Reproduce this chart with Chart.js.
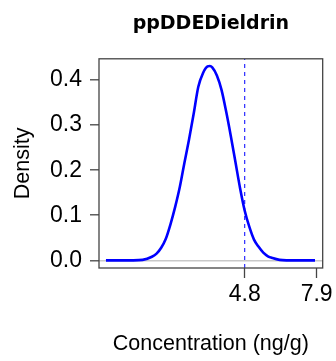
<!DOCTYPE html>
<html>
<head>
<meta charset="utf-8">
<script src="https://cdn.jsdelivr.net/npm/chart.js@4/dist/chart.umd.min.js"></script>
<style>
  html, body { margin: 0; padding: 0; background: #ffffff; }
  #wrap { width: 336px; height: 361px; }
</style>
</head>
<body>
<div id="wrap"><canvas id="c" width="336" height="361"></canvas></div>
<script>
// Density estimate of the concentration (ng/g)
const concentration = [-1.18, 0.0, 0.4, 0.8, 1.0, 1.2, 1.4, 1.6, 1.8, 2.0, 2.2, 2.4, 2.6, 2.8, 3.0, 3.2, 3.3, 3.4, 3.6, 3.8, 4.0, 4.2, 4.4, 4.6, 4.8, 5.0, 5.2, 5.4, 5.6, 5.8, 6.0, 6.3, 6.6, 7.0, 7.83];
const density = [0.000, 0.000, 0.001, 0.008, 0.015, 0.028, 0.048, 0.080, 0.118, 0.162, 0.216, 0.268, 0.325, 0.385, 0.415, 0.430, 0.431, 0.428, 0.410, 0.378, 0.330, 0.276, 0.218, 0.160, 0.110, 0.074, 0.046, 0.030, 0.017, 0.009, 0.005, 0.001, 0.000, 0.000, 0.000];

// Marked reference concentration and axis ticks
const referenceValue = 4.8;
const xTicks = [4.8, 7.9];
const yTicks = [0.0, 0.1, 0.2, 0.3, 0.4];
const xRange = [-1.48, 8.16];
const yRange = [-0.017, 0.447];

const titleText = 'ppDDEDieldrin';
const xTitle = 'Concentration (ng/g)';
const yTitle = 'Density';

const curvePoints = concentration.map((x, i) => ({ x: x, y: density[i] }));
const refPoints = [{ x: referenceValue, y: yRange[0] }, { x: referenceValue, y: yRange[1] }];

const tickFont = { family: 'Liberation Sans, Arial, sans-serif', size: 23 };
const axisTitleFont = { family: 'Liberation Sans, Arial, sans-serif', size: 21.5 };

// Frame around the plotting region
const framePlugin = {
  id: 'frame',
  afterDatasetsDraw(chart) {
    const a = chart.chartArea;
    const ctx = chart.ctx;
    ctx.save();
    ctx.strokeStyle = '#444444';
    ctx.lineWidth = 1.3;
    ctx.strokeRect(a.left, a.top, a.right - a.left, a.bottom - a.top);
    ctx.restore();
  }
};

new Chart(document.getElementById('c'), {
  type: 'line',
  data: {
    datasets: [
      {
        data: curvePoints,
        borderColor: '#0000ff',
        borderWidth: 2.6,
        pointRadius: 0,
        cubicInterpolationMode: 'monotone',
        fill: false
      },
      {
        data: refPoints,
        borderColor: '#0000ff',
        borderWidth: 1,
        borderDash: [4, 4],
        pointRadius: 0,
        fill: false
      }
    ]
  },
  options: {
    responsive: false,
    animation: false,
    devicePixelRatio: 1,
    layout: { padding: { left: 0, right: 13, top: 0, bottom: 0 } },
    plugins: {
      legend: { display: false },
      tooltip: { enabled: false },
      title: {
        display: true,
        fullSize: false,
        text: titleText,
        color: '#000000',
        font: { family: 'DejaVu Sans, sans-serif', size: 19, weight: 'bold', lineHeight: 1.2 },
        padding: { top: 13, bottom: 23 }
      }
    },
    scales: {
      x: {
        type: 'linear',
        min: xRange[0],
        max: xRange[1],
        afterBuildTicks(scale) { scale.ticks = xTicks.map(v => ({ value: v })); },
        afterFit(scale) { scale.height = 93; },
        ticks: {
          color: '#000000',
          font: tickFont,
          padding: 3,
          maxRotation: 0,
          autoSkip: false,
          callback: v => Number(v).toFixed(1)
        },
        grid: {
          drawOnChartArea: false,
          drawTicks: true,
          tickLength: 10,
          tickColor: '#444444',
          tickWidth: 1.3
        },
        border: { display: false },
        title: {
          display: true,
          text: xTitle,
          color: '#000000',
          font: axisTitleFont,
          padding: { top: 0, bottom: 4 }
        }
      },
      y: {
        type: 'linear',
        min: yRange[0],
        max: yRange[1],
        afterBuildTicks(scale) { scale.ticks = yTicks.map(v => ({ value: v })); },
        afterFit(scale) { scale.width = 99; },
        ticks: {
          color: '#000000',
          font: tickFont,
          padding: 8,
          autoSkip: false,
          callback: v => Number(v).toFixed(1)
        },
        grid: {
          drawOnChartArea: true,
          drawTicks: true,
          tickLength: 9,
          color: ctx => (ctx.tick && ctx.tick.value === 0 ? '#c8c8c8' : 'rgba(0,0,0,0)'),
          lineWidth: 1.6,
          tickColor: '#444444',
          tickWidth: 1.3
        },
        border: { display: false },
        title: {
          display: true,
          text: yTitle,
          color: '#000000',
          font: axisTitleFont,
          padding: { top: 10, bottom: 0 }
        }
      }
    }
  },
  plugins: [framePlugin]
});
</script>
</body>
</html>
